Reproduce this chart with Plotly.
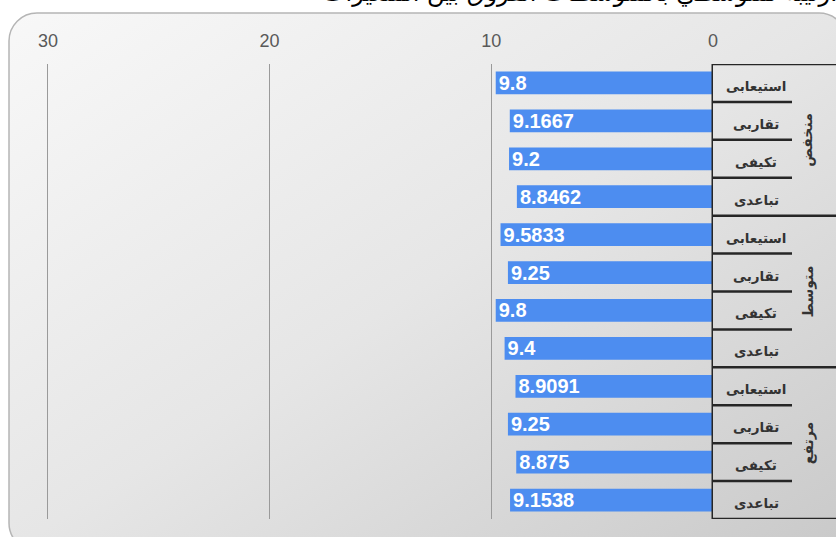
import base64
import plotly.graph_objects as go

# ---- data ----
groups = ["منخفض", "متوسط", "مرتفع"]
styles = ["استيعابى", "تقاربى", "تكيفى", "تباعدى"]
values = [9.8, 9.1667, 9.2, 8.8462,
          9.5833, 9.25, 9.8, 9.4,
          8.9091, 9.25, 8.875, 9.1538]
value_labels = ["9.8", "9.1667", "9.2", "8.8462",
                "9.5833", "9.25", "9.8", "9.4",
                "8.9091", "9.25", "8.875", "9.1538"]
x_ticks = [0, 10, 20, 30]
title_text = "رتيبة لمتوسطي بالمتوسطات الفروق بين المتغيرات."

W, H = 836, 537
L, R, T, B = 40, 123, 64, 18
plot_w = W - L - R
plot_h = H - T - B


def px_x(px):
    return (px - L) / plot_w


def px_y(py):
    return (H - B - py) / plot_h


cats = [f"{g} - {s}" for g in groups for s in styles]

fig = go.Figure()
fig.add_trace(go.Bar(
    x=values, y=cats, orientation="h",
    marker=dict(color="#4d8df0", line=dict(width=0)),
    text=value_labels, textposition="inside", insidetextanchor="end",
    textfont=dict(family="Liberation Sans", size=20, color="white", weight="bold"),
    constraintext="none", cliponaxis=False, hoverinfo="skip",
))

# background card with gradient (svg image)
cw, ch = 840, 540
svg = (f'<svg xmlns="http://www.w3.org/2000/svg" width="{cw}" height="{ch}" viewBox="0 0 {cw} {ch}">'
       '<defs><linearGradient id="g" x1="0" y1="0" x2="1" y2="1">'
       '<stop offset="0" stop-color="#f8f8f8"/><stop offset="0.5" stop-color="#e6e6e6"/>'
       '<stop offset="1" stop-color="#c9c9c9"/></linearGradient></defs>'
       f'<rect x="1" y="1" width="{cw-2}" height="{ch-2}" rx="28" ry="28" fill="url(#g)" '
       'stroke="#b5b5b5" stroke-width="1.5"/></svg>')
src = "data:image/svg+xml;base64," + base64.b64encode(svg.encode()).decode()
fig.add_layout_image(dict(
    source=src, xref="paper", yref="paper",
    x=px_x(8), y=px_y(12), sizex=cw / plot_w, sizey=ch / plot_h,
    xanchor="left", yanchor="top", sizing="stretch", layer="below",
))

shapes = []
line_col = "#262626"
n = len(cats)
shapes.append(dict(type="line", xref="x", yref="y", x0=0, x1=0, y0=-0.5, y1=n - 0.5,
                   line=dict(color=line_col, width=3)))
for k in range(n + 1):
    yb = k - 0.5
    x1 = px_x(840) if k % 4 == 0 else px_x(792)
    shapes.append(dict(type="line", xref="paper", yref="y", x0=1, x1=x1, y0=yb, y1=yb,
                       line=dict(color=line_col, width=2.5)))
fig.update_layout(shapes=shapes)

ann = []
for i, c in enumerate(cats):
    ann.append(dict(x=px_x(756), y=i, xref="paper", yref="y", text=styles[i % 4],
                    showarrow=False, yshift=-3, xanchor="center", yanchor="middle",
                    font=dict(family="DejaVu Sans", size=13.5, color="#333333", weight="bold")))
for gi, g in enumerate(groups):
    ann.append(dict(x=px_x(808), y=gi * 4 + 1.5, xref="paper", yref="y", text=g,
                    showarrow=False, textangle=-90, xanchor="center", yanchor="middle",
                    font=dict(family="DejaVu Sans", size=14, color="#333333", weight="bold")))
ann.append(dict(x=px_x(840), y=px_y(-7), xref="paper", yref="paper", text=title_text,
                showarrow=False, xanchor="right", yanchor="middle",
                font=dict(family="DejaVu Sans", size=24, color="black")))
fig.update_layout(annotations=ann)

fig.update_layout(
    width=W, height=H,
    margin=dict(l=L, r=R, t=T, b=B, pad=0),
    paper_bgcolor="white", plot_bgcolor="rgba(0,0,0,0)",
    showlegend=False, bargap=0.4,
    xaxis=dict(range=[(713 - L) / 22.17, 0], side="top", tickvals=x_ticks,
               showgrid=True, gridcolor="#9a9a9a", gridwidth=1, zeroline=False,
               showline=False, ticks="outside", ticklen=9, tickcolor="rgba(0,0,0,0)",
               tickfont=dict(family="Liberation Sans", size=18, color="#595959")),
    yaxis=dict(type="category", categoryorder="array", categoryarray=cats,
               range=[n - 0.5, -0.5], showticklabels=False, showgrid=False,
               zeroline=False, showline=False, ticks=""),
)

fig.write_html("out.html", config={"displayModeBar": False},
               post_script="document.body.style.margin='0';document.body.style.overflow='hidden';")
